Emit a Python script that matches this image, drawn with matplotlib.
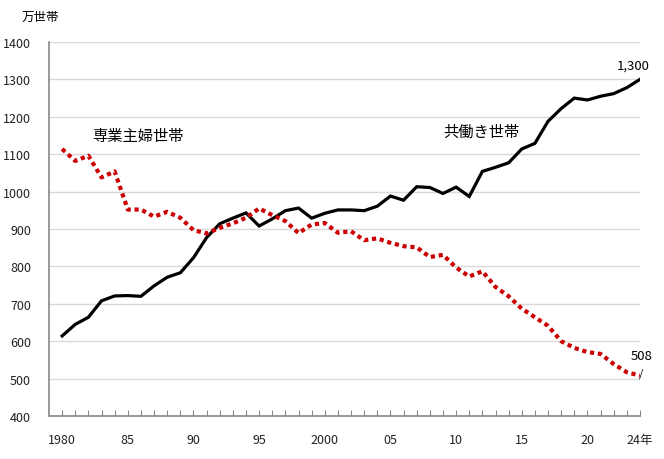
import matplotlib.pyplot as plt
from matplotlib.ticker import FixedLocator

plt.rcParams['font.family'] = ['Noto Sans CJK JP', 'DejaVu Sans']

years = list(range(1980, 2025))
dual_income = [614, 645, 664, 708, 721, 722, 720, 748, 771, 783,
               823, 877, 914, 929, 943, 908, 927, 949, 956, 929,
               942, 951, 951, 949, 961, 988, 977, 1013, 1011, 995,
               1012, 987, 1054, 1065, 1077, 1114, 1129, 1188, 1222, 1250,
               1245, 1255, 1262, 1278, 1300]
housewife = [1114, 1082, 1096, 1038, 1054, 952, 952, 933, 946, 930,
             897, 888, 903, 915, 930, 955, 937, 921, 889, 912,
             916, 890, 894, 870, 875, 863, 854, 851, 825, 831,
             797, 773, 787, 745, 720, 687, 664, 641, 600, 582,
             571, 566, 539, 517, 508]
label_years = {1980: '1980', 1985: '85', 1990: '90', 1995: '95', 2000: '2000',
               2005: '05', 2010: '10', 2015: '15', 2020: '20', 2024: '24年'}

fig = plt.figure(figsize=(6.64, 4.6), dpi=100)
ax = fig.add_axes([0.0738, 0.0935, 0.890, 0.813])

ax.plot(years, dual_income, color='black', lw=2.3, solid_joinstyle='miter', zorder=3)
ax.plot(years, housewife, color='#CC0000', lw=3.0, linestyle=(0, (1, 0.9)), zorder=3)

ax.set_xlim(1979, 2024)
ax.set_ylim(400, 1400)
ax.set_yticks(range(400, 1401, 100))
ax.yaxis.grid(True, color='#d9d9d9', lw=1)
ax.set_axisbelow(True)
ax.tick_params(axis='y', length=0, labelsize=9, pad=13, colors='#222222')

ax.xaxis.set_major_locator(FixedLocator(years))
ax.set_xticklabels([label_years.get(y, '') for y in years])
ax.tick_params(axis='x', direction='in', length=4, color='#888888',
               labelsize=9, pad=12, labelcolor='#222222')

for s in ['top', 'right']:
    ax.spines[s].set_visible(False)
for s in ['left', 'bottom']:
    ax.spines[s].set_color('#888888')
    ax.spines[s].set_linewidth(1.2)

ax.text(1982.3, 1150, '専業主婦世帯', fontsize=11, va='center')
ax.text(2009.0, 1160, '共働き世帯', fontsize=11, va='center')
ax.text(2023.5, 1338, '1,300', fontsize=9.5, ha='center', va='center')
ax.text(2024.1, 562, '508', fontsize=9.5, ha='center', va='center')
ax.text(2024.1, 516, '/', fontsize=8, ha='center', va='center')
fig.text(0.033, 0.963, '万世帯', fontsize=9, va='center')

fig.savefig('out.png', dpi=100)
